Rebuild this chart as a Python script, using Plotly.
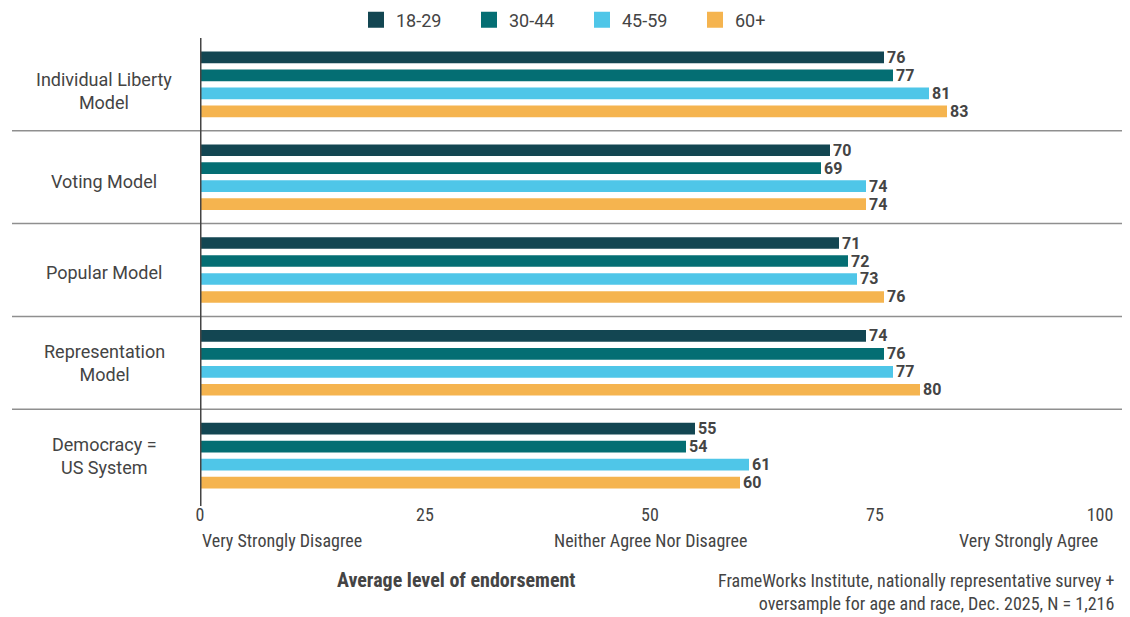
import plotly.graph_objects as go

categories = ["Individual Liberty<br>Model", "Voting Model", "Popular Model",
              "Representation<br>Model", "Democracy =<br>US System"]
series_names = ["18-29", "30-44", "45-59", "60+"]
values = {
    "18-29": [76, 70, 71, 74, 55],
    "30-44": [77, 69, 72, 76, 54],
    "45-59": [81, 74, 73, 77, 61],
    "60+":   [83, 74, 76, 80, 60],
}
colors = {"18-29": "#134652", "30-44": "#046e73", "45-59": "#4fc6e8", "60+": "#f5b44f"}
tick_vals = [0, 25, 50, 75, 100]
scale_labels = ["Very Strongly Disagree", "Neither Agree Nor Disagree", "Very Strongly Agree"]
scale_pos = [0, 50, 100]

FONT = "Roboto, 'Liberation Sans', sans-serif"
NARROW = "'Liberation Sans Narrow', 'Roboto Condensed', Roboto, sans-serif"

# page offset (body margin) compensation
OFF = 8
W, H = 1130 - OFF, 617 - OFF
L, R, T = 200 - OFF, 1130 - 1100, 38 - OFF
PB = 502 - OFF
B = H - PB
PW, PH = W - L - R, PB - T


def px(sx):
    return (sx - OFF - L) / PW


def py(sy):
    return (PB - (sy - OFF)) / PH


fig = go.Figure()
for s in series_names:
    fig.add_trace(go.Bar(
        name=s, y=list(range(len(categories))), x=values[s], orientation="h",
        marker=dict(color=colors[s], line=dict(width=0)),
        text=values[s], textposition="outside", cliponaxis=False, constraintext="none",
        textfont=dict(family=FONT, size=16, color="#444444", weight="bold"),
        showlegend=False,
    ))
# legend entries with larger square swatches
for s in series_names:
    fig.add_trace(go.Scatter(
        name=s, x=[None], y=[None], mode="markers",
        marker=dict(symbol="square", size=16, color=colors[s], line=dict(width=0)),
        showlegend=True,
    ))

shapes = []
for i in range(len(categories) - 1):
    shapes.append(dict(type="line", xref="paper", yref="y", x0=px(12), x1=px(1135),
                       y0=i + 0.5, y1=i + 0.5, line=dict(color="#8f8f8f", width=1.5), layer="below"))
shapes.append(dict(type="line", xref="x", yref="paper", x0=0, x1=0, y0=py(506), y1=1.0,
                   line=dict(color="#444444", width=3)))

label_shift = [-7, -4, -2, 0, 0]
annotations = []
for i, c in enumerate(categories):
    annotations.append(dict(text=c, xref="paper", yref="y", x=px(104), y=i, showarrow=False,
                            xanchor="center", yanchor="middle", align="center", yshift=label_shift[i],
                            font=dict(family=FONT, size=18, color="#444444")))
anchors = ["left", "center", "right"]
for lab, p, a in zip(scale_labels, scale_pos, anchors):
    annotations.append(dict(text=lab, xref="x", yref="paper", x=p, y=py(540), showarrow=False,
                            xanchor=a, yanchor="middle",
                            font=dict(family=NARROW, size=18, color="#444444")))
annotations.append(dict(text="<b>Average level of endorsement</b>", xref="paper", yref="paper",
                        x=px(456), y=py(580), showarrow=False, xanchor="center", yanchor="middle",
                        font=dict(family=NARROW, size=20, color="#444444")))
annotations.append(dict(text="FrameWorks Institute, nationally representative survey +<br>oversample for age and race, Dec. 2025, N = 1,216",
                        xref="paper", yref="paper", x=px(1116), y=py(592), showarrow=False,
                        xanchor="right", yanchor="middle", align="right",
                        font=dict(family=NARROW, size=18, color="#444444")))

fig.update_layout(
    width=W, height=H,
    margin=dict(l=L, r=R, t=T, b=B, autoexpand=False),
    paper_bgcolor="white", plot_bgcolor="white",
    barmode="group", bargap=0.225, bargroupgap=0.35,
    showlegend=True,
    legend=dict(orientation="h", x=px(356), y=py(20), xanchor="left", yanchor="middle",
                font=dict(family=FONT, size=18, color="#444444"),
                itemwidth=30, entrywidth=68),
    xaxis=dict(range=[0, 100], tickvals=tick_vals, showgrid=False, zeroline=False,
               showline=False, ticks="", fixedrange=True,
               tickfont=dict(family=NARROW, size=18, color="#444444")),
    yaxis=dict(range=[4.5, -0.5], showticklabels=False, showgrid=False, zeroline=False,
               showline=False, ticks=""),
    shapes=shapes, annotations=annotations,
)

fig.write_html("out.html")
